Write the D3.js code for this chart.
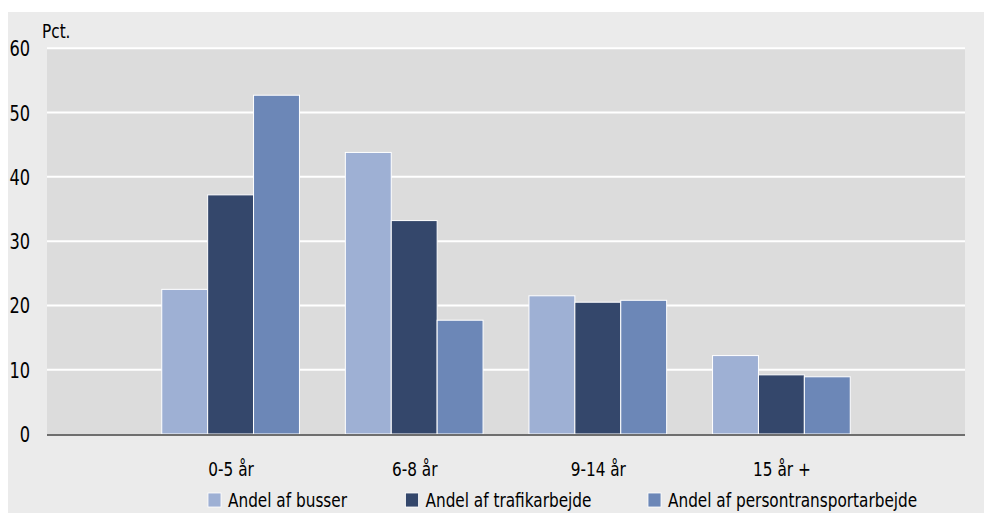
<!DOCTYPE html>
<html>
<head>
<meta charset="utf-8">
<script src="https://cdn.jsdelivr.net/npm/d3@7"></script>
<style>
  html, body { margin: 0; padding: 0; background: #ffffff; }
  svg { display: block; }
  text { font-family: "DejaVu Sans Condensed", "DejaVu Sans", sans-serif; fill: #000; }
</style>
</head>
<body>
<script>
const categories = ["0-5 år", "6-8 år", "9-14 år", "15 år +"];
const seriesNames = ["Andel af busser", "Andel af trafikarbejde", "Andel af persontransportarbejde"];
const busser = [22.5, 43.8, 21.5, 12.2];
const trafikarbejde = [37.2, 33.2, 20.5, 9.2];
const persontransport = [52.7, 17.7, 20.8, 8.9];
const yTicks = [0, 10, 20, 30, 40, 50, 60];
const colors = ["#9eb0d4", "#34476b", "#6c87b7"];
const seriesValues = [busser, trafikarbejde, persontransport];

const W = 984, H = 513;
const plot = { left: 47, right: 965, top: 48.3, bottom: 434 };
const FS = "17px";
const STRETCH = "scale(1,1.16)";

const svg = d3.select("body").append("svg").attr("width", W).attr("height", H);

// outer background
svg.append("rect").attr("x", 8).attr("y", 12).attr("width", W - 8).attr("height", H - 12).attr("fill", "#ebebeb");
// plot background
svg.append("rect").attr("x", plot.left).attr("y", plot.top).attr("width", plot.right - plot.left)
  .attr("height", plot.bottom - plot.top).attr("fill", "#dcdcdc");

const y = d3.scaleLinear().domain([0, 60]).range([plot.bottom, plot.top]);
const x0 = d3.scalePoint().domain(categories).range([plot.left, plot.right]).padding(1);
const barW = x0.step() / 4;
const x1 = d3.scaleBand().domain(seriesNames).range([-1.5 * barW, 1.5 * barW]);

// gridlines
svg.append("g").selectAll("line").data(yTicks.filter(d => d > 0)).join("line")
  .attr("x1", plot.left).attr("x2", plot.right)
  .attr("y1", d => y(d)).attr("y2", d => y(d))
  .attr("stroke", "#ffffff").attr("stroke-width", 2);

// y axis labels
const yAxis = d3.axisLeft(y).tickValues(yTicks).tickSize(0).tickPadding(0);
const gy = svg.append("g").attr("transform", `translate(30,0)`).call(yAxis);
gy.select(".domain").remove();
gy.selectAll("text").attr("dy", "0.3em").attr("y", 1).attr("transform", STRETCH)
  .style("font-size", "18px").style("font-family", '"DejaVu Sans Condensed", sans-serif').attr("fill", "#000");

svg.append("g").attr("transform", "translate(42,38)")
  .append("text").attr("transform", STRETCH).style("font-size", FS).text("Pct.");

// bars
const data = [];
categories.forEach((c, i) => {
  seriesNames.forEach((s, j) => data.push({ cat: c, series: s, value: seriesValues[j][i], color: colors[j] }));
});
svg.append("g").selectAll("rect").data(data).join("rect")
  .attr("x", d => x0(d.cat) + x1(d.series))
  .attr("y", d => y(d.value))
  .attr("width", x1.bandwidth())
  .attr("height", d => y(0) - y(d.value))
  .attr("fill", d => d.color)
  .attr("stroke", "#ffffff").attr("stroke-width", 1);

// baseline
svg.append("line").attr("x1", plot.left).attr("x2", plot.right)
  .attr("y1", y(0) + 1).attr("y2", y(0) + 1)
  .attr("stroke", "#6e6e6e").attr("stroke-width", 2);

// x axis labels
const xAxis = d3.axisBottom(x0).tickSize(0).tickPadding(0);
const gx = svg.append("g").attr("transform", `translate(0,476)`).call(xAxis);
gx.select(".domain").remove();
gx.selectAll("text").attr("dy", null).attr("y", 0).attr("transform", STRETCH)
  .style("font-size", FS).style("font-family", '"DejaVu Sans Condensed", sans-serif').attr("fill", "#000");

// legend
const legendX = [208, 405.5, 648];
const lg = svg.append("g").selectAll("g").data(seriesNames).join("g")
  .attr("transform", (d, i) => `translate(${legendX[i]},507)`);
lg.append("rect").attr("y", -14).attr("width", 13).attr("height", 14).attr("fill", (d, i) => colors[i])
  .attr("stroke", "#fff").attr("stroke-width", 0.8);
lg.append("g").attr("transform", "translate(20,0)")
  .append("text").attr("transform", STRETCH).style("font-size", FS).text(d => d);
</script>
</body>
</html>
